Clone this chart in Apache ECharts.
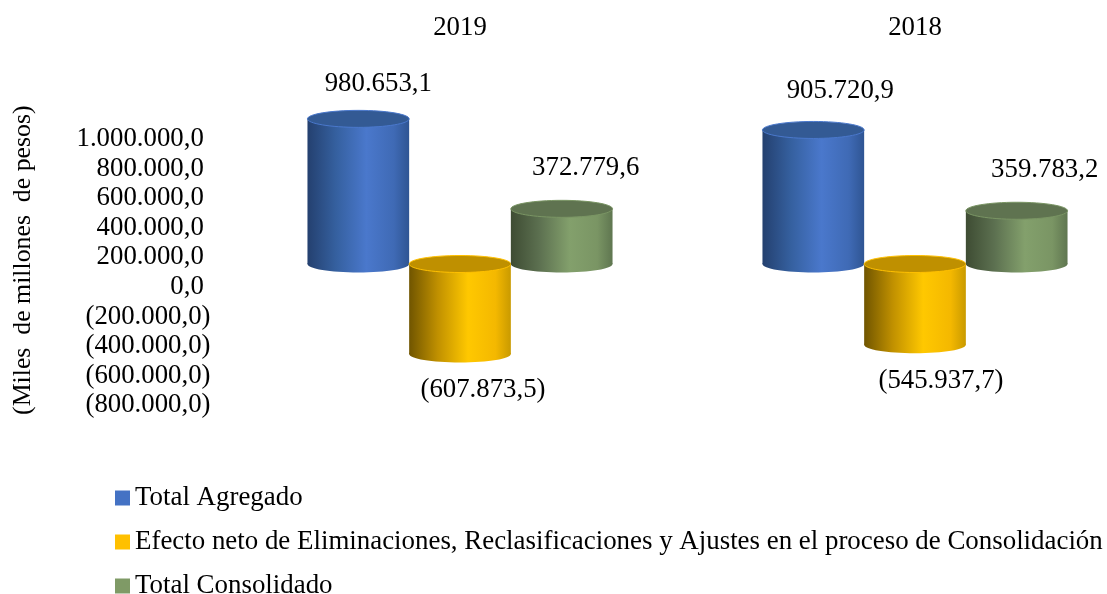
<!DOCTYPE html>
<html>
<head>
<meta charset="utf-8">
<style>html,body{margin:0;padding:0;background:#fff}#chart{width:1107px;height:594px}</style>
<script src="https://cdn.jsdelivr.net/npm/echarts@6/dist/echarts.min.js"></script>
</head>
<body>
<div id="chart"></div>
<script>
var categories = ['2019', '2018'];
var seriesNames = ['Total Agregado', 'Efecto neto de Eliminaciones, Reclasificaciones y Ajustes en el proceso de Consolidación', 'Total Consolidado'];
var totalAgregado = [980653.1, 905720.9];
var efectoNeto = [-607873.5, -545937.7];
var totalConsolidado = [372779.6, 359783.2];

var serif = '"Liberation Serif", "Times New Roman", serif';
var fontSize = 26.8;

// colores del cilindro
var palette = [
    {stops: ['#24406f', '#35609f', '#4a78cc', '#3f6ab5', '#2f5593'], cap: '#335a94', rim: '#4a78cc', legend: '#4472c4'},
    {stops: ['#705500', '#c09000', '#ffc800', '#f4b800', '#c99a00'], cap: '#bf9000', rim: '#ffc000', legend: '#ffc000'},
    {stops: ['#3e4c33', '#5c7050', '#83a06c', '#7a9564', '#5f7650'], cap: '#5f7350', rim: '#7a9564', legend: '#7f9a66'}
];
// desplazamiento de cada etiqueta respecto al cilindro
var labelShift = [
    [[20, -35], [27, -39]],
    [[23, 36], [26, 36]],
    [[24, -41], [28, -41]]
];

function fmt(v) {
    var s = Math.abs(v).toFixed(1).split('.');
    var txt = s[0].replace(/\B(?=(\d{3})+$)/g, '.') + ',' + s[1];
    return v < 0 ? '(' + txt + ')' : txt;
}

function makeSeries(idx, values) {
    var col = palette[idx];
    return {
        name: seriesNames[idx],
        type: 'custom',
        coordinateSystem: 'cartesian2d',
        xAxisIndex: 0,
        yAxisIndex: 0,
        clip: false,
        itemStyle: {color: col.legend},
        data: values.map(function (v, i) { return [i, v]; }),
        renderItem: function (params, api) {
            var i = api.value(0);
            var v = api.value(1);
            var band = api.size([1, 0])[0];
            var w = band * 0.2235;
            var cx = api.coord([i, 0])[0] + (idx - 1) * w;
            var yZero = api.coord([i, 0])[1];
            var yVal = api.coord([i, v])[1];
            var yTop = Math.min(yZero, yVal);
            var yBot = Math.max(yZero, yVal);
            var rx = w / 2;
            var ry = 8.5;
            var grad = new echarts.graphic.LinearGradient(0, 0, 1, 0, [
                {offset: 0, color: col.stops[0]},
                {offset: 0.28, color: col.stops[1]},
                {offset: 0.58, color: col.stops[2]},
                {offset: 0.85, color: col.stops[3]},
                {offset: 1, color: col.stops[4]}
            ]);
            var shift = labelShift[idx][i];
            return {
                type: 'group',
                children: [
                    {type: 'ellipse', shape: {cx: cx, cy: yBot, rx: rx, ry: ry}, style: {fill: grad}},
                    {type: 'rect', shape: {x: cx - rx, y: yTop, width: w, height: yBot - yTop}, style: {fill: grad}},
                    {type: 'ellipse', shape: {cx: cx, cy: yTop, rx: rx, ry: ry}, style: {fill: col.cap, stroke: col.rim, lineWidth: 1}},
                    {
                        type: 'text',
                        style: {
                            text: fmt(v),
                            x: cx + shift[0],
                            y: (v < 0 ? yBot : yTop) + shift[1],
                            align: 'center',
                            verticalAlign: 'middle',
                            fill: '#000',
                            font: fontSize + 'px ' + serif
                        }
                    }
                ]
            };
        }
    };
}

var chart = echarts.init(document.getElementById('chart'), null, {renderer: 'canvas'});
chart.setOption({
    animation: false,
    backgroundColor: '#fff',
    textStyle: {fontFamily: serif},
    // grid 0: cilindros; grid 1: solo la escala, mas abajo como en el original
    grid: [
        {left: 232.5, width: 910, top: 116, height: 266.4, outerBoundsMode: 'none'},
        {left: 232.5, width: 910, top: 139, height: 266.4, outerBoundsMode: 'none'}
    ],
    legend: {
        orient: 'vertical',
        left: 115,
        top: 484.5,
        height: 130,
        padding: 0,
        itemWidth: 15,
        itemHeight: 15,
        itemGap: 17,
        icon: 'rect',
        data: seriesNames,
        textStyle: {fontFamily: serif, fontSize: 26.9, lineHeight: 26, color: '#000'}
    },
    xAxis: [
        {
            type: 'category',
            gridIndex: 0,
            data: categories,
            position: 'top',
            axisLine: {show: false, onZero: false},
            axisTick: {show: false},
            axisLabel: {color: '#000', fontSize: fontSize, fontFamily: serif, margin: 75}
        },
        {type: 'category', gridIndex: 1, data: categories, show: false}
    ],
    yAxis: [
        {type: 'value', gridIndex: 0, min: -800000, max: 1000000, interval: 200000, show: false},
        {
            type: 'value',
            gridIndex: 1,
            min: -800000,
            max: 1000000,
            interval: 200000,
            name: '(Miles  de millones  de pesos)',
            nameLocation: 'middle',
            nameGap: 196,
            nameTextStyle: {color: '#000', fontSize: 25.8, fontFamily: serif, padding: [0, 0, 0, 24]},
            splitLine: {show: false},
            axisLine: {show: false},
            axisTick: {show: false},
            axisLabel: {
                color: '#000',
                fontSize: fontSize,
                fontFamily: serif,
                margin: 22,
                formatter: function (v) { return v < 0 ? fmt(v) : fmt(v) + ' '; }
            }
        }
    ],
    series: [
        makeSeries(0, totalAgregado),
        makeSeries(1, efectoNeto),
        makeSeries(2, totalConsolidado)
    ]
});
</script>
</body>
</html>
